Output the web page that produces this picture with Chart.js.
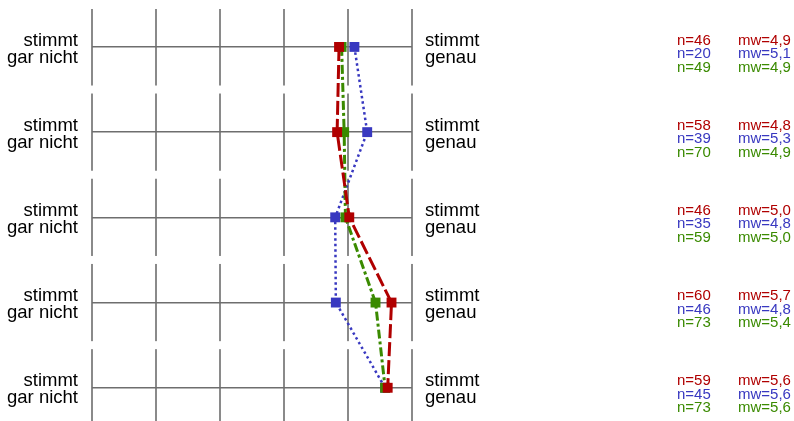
<!DOCTYPE html>
<html>
<head>
<meta charset="utf-8">
<script src="https://cdn.jsdelivr.net/npm/chart.js@4/dist/chart.umd.min.js"></script>
<style>
  body { margin: 0; background: #fff; }
  #wrap { width: 794px; height: 421px; }
</style>
</head>
<body>
<div id="wrap"><canvas id="chart" width="794" height="421"></canvas></div>
<script>
// rows of the profile (top to bottom)
const rows = [1, 2, 3, 4, 5];
const leftLabel = ['stimmt', 'gar nicht'];
const rightLabel = ['stimmt', 'genau'];

// means per row
const redMeans = [4.86, 4.83, 5.02, 5.68, 5.62];
const blueMeans = [5.10, 5.30, 4.80, 4.81, 5.58];
const greenMeans = [4.90, 4.94, 4.96, 5.43, 5.58];

// group sizes per row
const redN = [46, 58, 46, 60, 59];
const blueN = [20, 39, 35, 46, 45];
const greenN = [49, 70, 59, 73, 73];

const RED = '#b00000';
const BLUE = '#3838c0';
const GREEN = '#3a8a00';

const FONT = '"Liberation Sans", Arial, sans-serif';
Chart.defaults.font.family = FONT;

function pts(means) {
    return means.map((m, i) => ({ x: m, y: rows[i] }));
}

// white gaps between the row blocks, so the vertical grid looks segmented
const gapPlugin = {
    id: 'gaps',
    beforeDatasetsDraw(chart) {
        const ctx = chart.ctx;
        const ys = chart.scales.y;
        const area = chart.chartArea;
        ctx.save();
        ctx.fillStyle = '#fff';
        for (let i = 0; i < rows.length - 1; i++) {
            const yb = (ys.getPixelForValue(rows[i]) + ys.getPixelForValue(rows[i + 1])) / 2;
            ctx.fillRect(area.left - 3, yb - 4, area.right - area.left + 6, 8);
        }
        ctx.restore();
    }
};

// n= / mw= columns on the right
const statsPlugin = {
    id: 'stats',
    afterDraw(chart) {
        const ctx = chart.ctx;
        const ys = chart.scales.y;
        const right = chart.chartArea.right;
        const groups = [
            { n: redN, m: redMeans, c: RED },
            { n: blueN, m: blueMeans, c: BLUE },
            { n: greenN, m: greenMeans, c: GREEN }
        ];
        ctx.save();
        ctx.font = '15px ' + FONT;
        ctx.textBaseline = 'middle';
        ctx.textAlign = 'left';
        rows.forEach((r, i) => {
            const y0 = ys.getPixelForValue(r) + 7;
            groups.forEach((g, k) => {
                const y = y0 + (k - 1) * 13.5;
                ctx.fillStyle = g.c;
                ctx.fillText('n=' + g.n[i], right + 265, y);
                ctx.fillText('mw=' + g.m[i].toFixed(1).replace('.', ','), right + 326, y);
            });
        });
        ctx.restore();
    }
};

function setTicks(scale) {
    scale.ticks = rows.map(v => ({ value: v }));
}

new Chart(document.getElementById('chart'), {
    type: 'scatter',
    data: {
        datasets: [
            {
                label: 'rot',
                data: pts(redMeans),
                showLine: true,
                borderColor: RED,
                backgroundColor: RED,
                borderWidth: 3,
                borderDash: [14, 4],
                pointStyle: 'rect',
                pointRadius: 7,
                pointBorderWidth: 0,
                pointBackgroundColor: RED
            },
            {
                label: 'grün',
                data: pts(greenMeans),
                showLine: true,
                borderColor: GREEN,
                backgroundColor: GREEN,
                borderWidth: 3,
                borderDash: [9, 3, 3, 3],
                pointStyle: 'rect',
                pointRadius: 7,
                pointBorderWidth: 0,
                pointBackgroundColor: GREEN
            },
            {
                label: 'blau',
                data: pts(blueMeans),
                showLine: true,
                borderColor: BLUE,
                backgroundColor: BLUE,
                borderWidth: 2.5,
                borderDash: [2.5, 3],
                pointStyle: 'rect',
                pointRadius: 7,
                pointBorderWidth: 0,
                pointBackgroundColor: BLUE
            }
        ]
    },
    options: {
        responsive: false,
        animation: false,
        layout: { autoPadding: false, padding: { top: 9, bottom: 0, left: 0, right: 0 } },
        plugins: {
            legend: { display: false },
            tooltip: { enabled: false }
        },
        scales: {
            x: {
                type: 'linear',
                position: 'bottom',
                min: 1,
                max: 6,
                ticks: { display: false, stepSize: 1 },
                grid: { color: '#8a8a8a', lineWidth: 2, drawTicks: false },
                border: { display: false },
                afterFit(s) { s.height = 0; s.paddingLeft = 0; s.paddingRight = 0; }
            },
            y: {
                type: 'linear',
                position: 'left',
                reverse: true,
                min: 0.555,
                max: 5.39,
                afterBuildTicks: setTicks,
                ticks: {
                    autoSkip: false,
                    callback: () => leftLabel,
                    color: '#000',
                    padding: 14,
                    labelOffset: 2,
                    font: { size: 18.5, lineHeight: '17px' }
                },
                grid: { color: '#6e6e6e', lineWidth: 1.5, drawTicks: false },
                border: { display: false },
                afterFit(s) { s.width = 92; s.paddingTop = 0; s.paddingBottom = 0; }
            },
            y2: {
                type: 'linear',
                position: 'right',
                reverse: true,
                min: 0.555,
                max: 5.39,
                afterBuildTicks: setTicks,
                ticks: {
                    autoSkip: false,
                    callback: () => rightLabel,
                    color: '#000',
                    padding: 13,
                    labelOffset: 2,
                    font: { size: 18.5, lineHeight: '17px' }
                },
                grid: { display: false, drawTicks: false },
                border: { display: false },
                afterFit(s) { s.width = 382; s.paddingTop = 0; s.paddingBottom = 0; }
            }
        }
    },
    plugins: [gapPlugin, statsPlugin]
});
</script>
</body>
</html>
